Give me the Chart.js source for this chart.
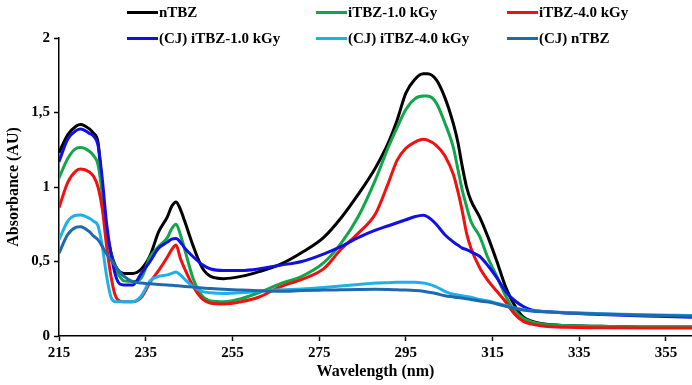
<!DOCTYPE html>
<html>
<head>
<meta charset="utf-8">
<script src="https://cdn.jsdelivr.net/npm/chart.js@4"></script>
<style>
  html, body { margin: 0; padding: 0; background: #fff; }
  #wrap { position: relative; width: 692px; height: 385px; }
  #legend { position: absolute; left: 0; top: 0; width: 692px; height: 50px; font: bold 15px "Liberation Serif", "Times New Roman", serif; color: #000; }
  .item { position: absolute; display: flex; align-items: center; white-space: nowrap; }
  .swatch { display: inline-block; width: 31px; height: 3px; margin-right: 1px; }
</style>
</head>
<body>
<div id="wrap">
  <canvas id="uv" width="692" height="385"></canvas>
  <div id="legend"></div>
</div>
<script>
// wavelength grid (nm)
const wavelength = [215, 217, 219, 220, 222, 223, 224, 225, 226, 227, 228, 229, 230, 232, 234, 236, 238, 240, 241, 242,
  243, 244, 246, 248, 250, 253, 257, 261, 266, 271, 276, 280, 284, 288, 291, 293, 295, 297, 299, 300,
  302, 304, 306, 307, 308, 309, 310, 312, 314, 316, 318, 320, 322, 324, 327, 332, 340, 350, 361];

const nTBZ = [1.23, 1.35, 1.41, 1.42, 1.39, 1.36, 1.30, 0.98, 0.70, 0.56, 0.47, 0.43, 0.42, 0.42, 0.45, 0.54, 0.70, 0.80, 0.87, 0.90,
  0.85, 0.77, 0.60, 0.46, 0.40, 0.385, 0.40, 0.43, 0.48, 0.56, 0.66, 0.79, 0.95, 1.13, 1.30, 1.45, 1.63, 1.72, 1.76, 1.76,
  1.72, 1.60, 1.42, 1.30, 1.14, 1.00, 0.91, 0.80, 0.66, 0.50, 0.33, 0.21, 0.13, 0.10, 0.08, 0.07, 0.065, 0.06, 0.06];

const iTBZ_1 = [1.06, 1.19, 1.26, 1.265, 1.24, 1.21, 1.15, 0.95, 0.70, 0.55, 0.45, 0.40, 0.37, 0.365, 0.39, 0.53, 0.60, 0.66, 0.72, 0.75,
  0.68, 0.58, 0.38, 0.27, 0.235, 0.23, 0.25, 0.29, 0.35, 0.40, 0.49, 0.62, 0.80, 1.05, 1.27, 1.40, 1.52, 1.59, 1.61, 1.61,
  1.565, 1.43, 1.26, 1.12, 0.98, 0.87, 0.77, 0.67, 0.52, 0.40, 0.27, 0.17, 0.12, 0.095, 0.078, 0.07, 0.065, 0.06, 0.06];

const iTBZ_4 = [0.86, 1.03, 1.11, 1.12, 1.10, 1.07, 1.00, 0.85, 0.60, 0.40, 0.27, 0.235, 0.23, 0.23, 0.26, 0.36, 0.44, 0.53, 0.58, 0.61,
  0.52, 0.45, 0.33, 0.25, 0.22, 0.215, 0.23, 0.26, 0.33, 0.38, 0.45, 0.58, 0.69, 0.82, 1.03, 1.18, 1.26, 1.30, 1.32, 1.315,
  1.28, 1.21, 1.08, 0.97, 0.84, 0.69, 0.59, 0.46, 0.37, 0.30, 0.23, 0.15, 0.10, 0.08, 0.065, 0.058, 0.055, 0.053, 0.053];

const cj_iTBZ_1 = [1.17, 1.32, 1.38, 1.39, 1.36, 1.34, 1.28, 1.05, 0.75, 0.55, 0.41, 0.35, 0.343, 0.343, 0.42, 0.50, 0.59, 0.63, 0.65, 0.655,
  0.63, 0.59, 0.53, 0.48, 0.45, 0.44, 0.44, 0.45, 0.475, 0.50, 0.55, 0.60, 0.66, 0.71, 0.74, 0.76, 0.78, 0.80, 0.81, 0.80,
  0.75, 0.68, 0.63, 0.61, 0.59, 0.58, 0.565, 0.535, 0.47, 0.39, 0.30, 0.24, 0.20, 0.175, 0.165, 0.155, 0.145, 0.135, 0.125];

const cj_iTBZ_4 = [0.645, 0.77, 0.81, 0.812, 0.79, 0.77, 0.74, 0.60, 0.40, 0.26, 0.23, 0.23, 0.23, 0.23, 0.27, 0.37, 0.40, 0.41, 0.42, 0.43,
  0.41, 0.38, 0.33, 0.30, 0.29, 0.285, 0.29, 0.30, 0.31, 0.315, 0.325, 0.335, 0.345, 0.355, 0.358, 0.36, 0.36, 0.36, 0.355, 0.35,
  0.33, 0.30, 0.28, 0.275, 0.27, 0.265, 0.26, 0.245, 0.235, 0.22, 0.205, 0.19, 0.178, 0.17, 0.163, 0.158, 0.15, 0.143, 0.138];

const cj_nTBZ = [0.555, 0.68, 0.73, 0.734, 0.70, 0.67, 0.645, 0.60, 0.55, 0.51, 0.47, 0.43, 0.40, 0.365, 0.355, 0.35, 0.345, 0.343, 0.34, 0.338,
  0.335, 0.333, 0.328, 0.322, 0.318, 0.313, 0.309, 0.304, 0.30, 0.305, 0.308, 0.31, 0.312, 0.313, 0.312, 0.31, 0.308, 0.305, 0.30, 0.295,
  0.285, 0.27, 0.262, 0.258, 0.255, 0.25, 0.245, 0.235, 0.228, 0.215, 0.20, 0.186, 0.175, 0.168, 0.162, 0.155, 0.148, 0.14, 0.133];

const xTicks = [215, 235, 255, 275, 295, 315, 335, 355];
const yTicks = [0, 0.5, 1, 1.5, 2];

const series = [
  { label: 'nTBZ', data: nTBZ, color: '#000000' },
  { label: 'iTBZ-1.0 kGy', data: iTBZ_1, color: '#12a54a' },
  { label: 'iTBZ-4.0 kGy', data: iTBZ_4, color: '#f01010' },
  { label: '(CJ) iTBZ-1.0 kGy', data: cj_iTBZ_1, color: '#1010e6' },
  { label: '(CJ) iTBZ-4.0 kGy', data: cj_iTBZ_4, color: '#1eb0ea' },
  { label: '(CJ) nTBZ', data: cj_nTBZ, color: '#1f6aae' }
];

const font = { family: '"Liberation Serif", "Times New Roman", serif', weight: 'bold', size: 15 };

const chart = new Chart(document.getElementById('uv'), {
  type: 'line',
  data: {
    datasets: series.map(s => ({
      label: s.label,
      data: s.data.map((y, i) => ({ x: wavelength[i], y })),
      borderColor: s.color,
      backgroundColor: s.color,
      borderWidth: 3,
      pointRadius: 0,
      cubicInterpolationMode: 'monotone',
      fill: false
    })).reverse()
  },
  options: {
    responsive: false,
    animation: false,
    layout: { padding: { top: 38, right: 0, left: 0, bottom: 0 } },
    plugins: { legend: { display: false }, tooltip: { enabled: false } },
    scales: {
      x: {
        type: 'linear', min: 215, max: 361,
        afterBuildTicks: ax => { ax.ticks = xTicks.map(v => ({ value: v })); },
        afterFit: ax => { ax.height = 49; },
        grid: { display: true, drawOnChartArea: false, color: '#000', tickLength: 5, tickWidth: 1.5 },
        border: { color: '#000', width: 1.5 },
        ticks: { color: '#000', font, padding: 3, maxRotation: 0 },
        title: { display: true, text: 'Wavelength (nm)', color: '#000', font: { ...font, size: 16 }, padding: { top: 0 } }
      },
      y: {
        min: 0, max: 2,
        afterBuildTicks: ax => { ax.ticks = yTicks.map(v => ({ value: v })); },
        afterFit: ax => { ax.width = 59; },
        grid: { display: true, drawOnChartArea: false, color: '#000', tickLength: 5, tickWidth: 1.5 },
        border: { color: '#000', width: 1.5 },
        ticks: { color: '#000', font, padding: 4, callback: v => String(v).replace('.', ',') },
        title: { display: true, text: 'Absorbance (AU)', color: '#000', font: { ...font, size: 16 }, padding: { bottom: 4 } }
      }
    }
  }
});

// legend built from the series list, two rows of three
const legendPos = [[127, 13], [316, 13], [507, 13], [127, 39], [316, 39], [507, 39]];
const legend = document.getElementById('legend');
series.forEach((s, i) => {
  const item = document.createElement('div');
  item.className = 'item';
  item.style.left = legendPos[i][0] + 'px';
  item.style.top = (legendPos[i][1] - 9) + 'px';
  item.innerHTML = '<span class="swatch" style="background:' + s.color + '"></span><span>' + s.label + '</span>';
  legend.appendChild(item);
});
</script>
</body>
</html>
